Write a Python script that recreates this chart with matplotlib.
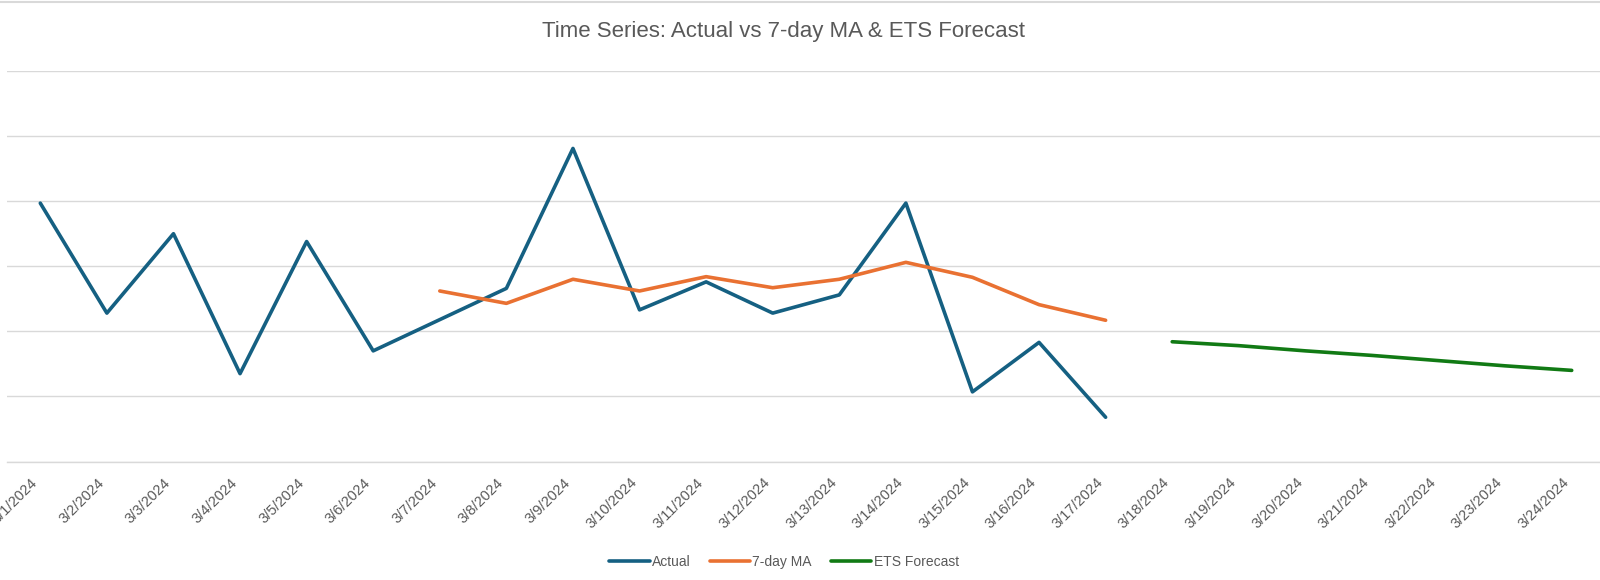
import matplotlib.pyplot as plt
import numpy as np
from matplotlib.lines import Line2D

dates = ['3/%d/2024' % d for d in range(1, 25)]

actual = [3.97, 2.28, 3.50, 1.35, 3.38, 1.70, 2.18, 2.66, 4.81, 2.33,
          2.76, 2.28, 2.56, 3.97, 1.07, 1.83, 0.68]
ma7 = [2.62, 2.43, 2.80, 2.62, 2.84, 2.67, 2.80, 3.06, 2.83, 2.41, 2.17]
forecast = [1.84, 1.78, 1.70, 1.63, 1.55, 1.47, 1.40]

n = len(dates)
x = np.arange(n)
x_actual = x[:len(actual)]
x_ma = x[len(actual) - len(ma7):len(actual)]
x_fc = x[n - len(forecast):]

plt.rcParams['font.family'] = ['Liberation Sans', 'DejaVu Sans']

fig = plt.figure(figsize=(16, 5.8), dpi=100)
ax = fig.add_axes([7 / 1600, (580 - 461.5) / 580, (1605 - 7) / 1600, (461.5 - 71) / 580])

lw = 2.6
kw = dict(linewidth=lw, solid_capstyle='round', solid_joinstyle='round')
ax.plot(x_actual, actual, color='#156082', label='Actual', **kw)
ax.plot(x_ma, ma7, color='#E97132', label='7-day MA', **kw)
ax.plot(x_fc, forecast, color='#117A14', label='ETS Forecast', **kw)

ax.set_xlim(-0.5, n - 0.5)
ax.set_ylim(0, 6)
ax.set_yticks(np.arange(0, 7, 1))
ax.set_yticklabels([])
ax.grid(axis='y', color='#d9d9d9', linewidth=1.0)
ax.set_axisbelow(True)
for s in ['top', 'right', 'left']:
    ax.spines[s].set_visible(False)
ax.spines['bottom'].set_color('#d9d9d9')
ax.spines['bottom'].set_linewidth(1.0)

ax.set_xticks(x)
ax.set_xticklabels(dates, rotation=45, ha='right', va='top', fontsize=10.5, color='#595959')
ax.tick_params(axis='x', length=0, pad=10)
ax.tick_params(axis='y', length=0)

fig.text(784 / 1600, 1 - 32 / 580, 'Time Series: Actual vs 7-day MA & ETS Forecast',
         ha='center', va='center', fontsize=16, color='#595959')

fig.legend(loc='center', bbox_to_anchor=(784 / 1600, 1 - 562 / 580), ncol=3,
           frameon=False, fontsize=10, labelcolor='#595959',
           handlelength=2.9, handletextpad=0.15, columnspacing=1.4)

fig.add_artist(Line2D([0, 1], [1 - 2 / 580, 1 - 2 / 580], color='#d9d9d9', linewidth=1.5,
                      transform=fig.transFigure))

fig.savefig('out.png', dpi=100)
